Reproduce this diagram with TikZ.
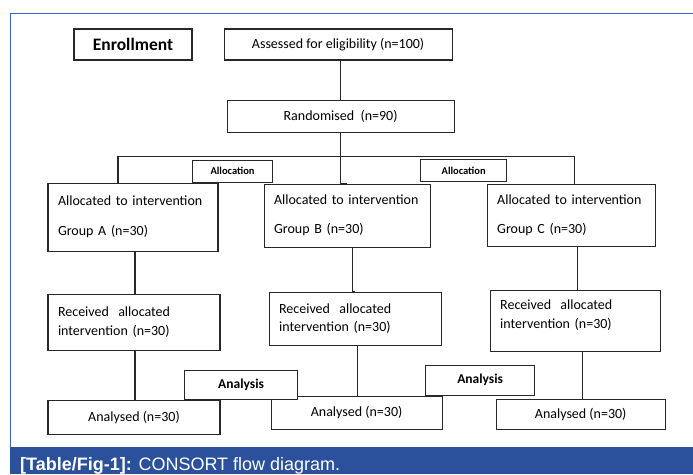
\documentclass[tikz,border=0pt]{standalone}
\usepackage{fontspec}
\setmainfont{Carlito}
\newfontfamily\capfont{Liberation Sans}
\usetikzlibrary{positioning, calc}
\definecolor{framecolor}{RGB}{60,100,185}
\definecolor{capcolor}{RGB}{43,80,156}
\definecolor{linecolor}{RGB}{40,40,40}

\begin{document}
\begin{tikzpicture}[
    x=1pt, y=1pt,
    node distance=40pt and 30pt,
    box/.style={draw=linecolor, line width=1.1pt, fill=white, font=\fontsize{14}{17}\selectfont, align=center},
    groupbox/.style={box, align=left, inner xsep=10pt, text width=#1},
    titlebox/.style={box, font=\fontsize{13.5}{16}\selectfont\bfseries},
    link/.style={draw=linecolor, line width=1.1pt}
]
    % frame and caption
    \useasboundingbox (0,0) rectangle (693,-474);
    \draw[framecolor, line width=1pt] (10,-447) |- (693,-13);
    \fill[capcolor] (10,-447) rectangle (693,-474);
    \node[anchor=base west, text=white, inner sep=0pt, font=\capfont\fontsize{18}{21}\selectfont] (caption) at (20,-470) {\textbf{[Table/Fig-1]:} CONSORT flow diagram.};

    % Enrollment
    \node[titlebox, font=\fontsize{17.5}{20}\selectfont\bfseries, minimum width=118pt, minimum height=31pt] (enroll) at (133,-44.5) {Enrollment};
    \node[box, minimum width=228pt, minimum height=31pt, right=31pt of enroll] (assess) {Assessed for eligibility (n=100)};
    \node[box, minimum width=227pt, minimum height=32pt, below=39pt of assess, xshift=2.5pt] (random) {Randomised\ \ (n=90)};

    % Allocation
    \node[groupbox=146pt, minimum height=63pt, below=51pt of random, xshift=6.5pt] (groupB) {Allocated to intervention\\[12pt]Group B (n=30)};
    \node[groupbox=150pt, minimum height=68pt, left=45pt of groupB, yshift=-1.5pt] (groupA) {Allocated to intervention\\[13pt]Group A (n=30)};
    \node[groupbox=148pt, minimum height=62pt, right=56pt of groupB] (groupC) {Allocated to intervention\\[12pt]Group C (n=30)};
    \node[titlebox, font=\fontsize{10.5}{12}\selectfont\bfseries, minimum width=80pt, minimum height=22pt, anchor=south west] (alloc1) at ([xshift=59pt]groupA.north) {Allocation};
    \node[titlebox, font=\fontsize{10.5}{12}\selectfont\bfseries, minimum width=86pt, minimum height=22pt, anchor=south east] (alloc2) at ([xshift=-64pt, yshift=2pt]groupC.north) {Allocation};

    % Follow-up
    \node[groupbox=152pt, minimum height=56pt, below=42pt of groupA, xshift=1pt] (recvA) {Received\ \ allocated\\[1.5pt]intervention (n=30)};
    \node[groupbox=152pt, minimum height=53pt, below=44pt of groupB, xshift=8pt] (recvB) {Received\ \ allocated\\[1.5pt]intervention (n=30)};
    \node[groupbox=150pt, minimum height=61pt, below=43pt of groupC, xshift=4pt, text depth=33pt] (recvC) {Received\ \ allocated\\[1.5pt]intervention (n=30)};

    % Analysis
    \node[box, minimum width=172pt, minimum height=34pt, below=49pt of recvA] (anaA) {Analysed (n=30)};
    \node[box, minimum width=171pt, minimum height=33pt, below=50pt of recvB, xshift=1.5pt] (anaB) {Analysed (n=30)};
    \node[box, minimum width=169pt, minimum height=30pt, below=47pt of recvC, xshift=5.5pt] (anaC) {Analysed (n=30)};
    \node[titlebox, minimum width=113pt, minimum height=29pt, anchor=south west] (analysis1) at ([xshift=50pt]anaA.north) {Analysis};
    \node[titlebox, minimum width=109pt, minimum height=30pt, anchor=south west] (analysis2) at ([xshift=68.5pt]anaB.north) {Analysis};

    % Connectors
    \draw[link] (random.north) |- (assess.south);
    \draw[link] (random.south) |- (groupB.north);
    \draw[link] ([xshift=-15pt]groupA.north) |- ([xshift=3pt, yshift=28pt]groupC.north) -- ([xshift=3pt]groupC.north);
    \draw[link] ([xshift=2pt]groupA.south) |- (recvA.north);
    \draw[link] ([xshift=5pt]groupB.south) |- (recvB.north);
    \draw[link] ([xshift=6pt]groupC.south) |- (recvC.north);
    \draw[link] ([xshift=1pt]recvA.south) |- (anaA.north);
    \draw[link] ([xshift=2pt]recvB.south) |- (anaB.north);
    \draw[link] ([xshift=7pt]recvC.south) |- (anaC.north);
\end{tikzpicture}
\end{document}
